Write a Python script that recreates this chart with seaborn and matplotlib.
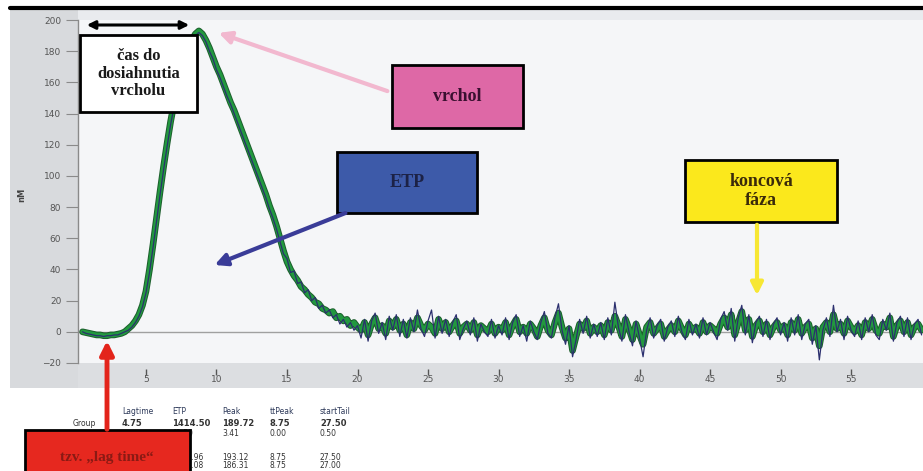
import numpy as np
import pandas as pd
import matplotlib
matplotlib.use("Agg")
import matplotlib.pyplot as plt
import seaborn as sns
from matplotlib.patches import Rectangle, FancyArrowPatch

W, H = 923, 471

# time grid (min), 0.25 min sampling
time_min = np.arange(0.5, 60.01, 0.25)

# thick green curve (nM)
green_vals = [
    # 0.5 - 4.75
    0, -0.5, -1, -1.5, -2, -2, -2.5, -2.5, -2, -2, -1.5, -1, 0, 2, 4, 7, 11, 17,
    # 5.0 - 9.0
    26, 40, 56, 73, 90, 106, 121, 135, 147, 158, 167, 175, 182, 187, 191, 193, 191,
    # 9.25 - 20.0
    187, 182, 176, 170, 165, 159, 153, 147, 142, 136, 130, 124, 118, 112, 106, 100, 94, 88, 81, 75,
    68, 60, 52, 45, 40, 36, 33, 29, 27, 24, 22, 19, 18, 15, 14, 12, 13, 9, 10, 7, 8, 4, 6, 3,
    # tail 20.25 - 60.0
    1, 6, -2, 5, 9, 2, 4, -1, 7, 3, 8, 1, 5, -2, 6, 2, 9, 4, 1, 5,
    3, -1, 8, 2, 6, 0, 4, 7, -1, 3, 5, 1, 6, -2, 4, 2, 0, 5, -1, 3,
    1, 6, -2, 4, 8, 0, 3, -1, 5, 2, -3, 4, 9, 1, -2, 6, 12, 3, -4, 2,
    -12, -3, 5, 2, 7, -1, 3, 0, 4, -2, 6, 1, 10, 4, -3, 8, 2, -5, 5, -2,
    -8, 3, 6, -1, 2, 5, -3, 1, 4, 0, 7, 2, -2, 5, 1, 3, -1, 6, 0, 4,
    2, -1, 5, 9, 3, 11, -2, 6, 13, 1, 8, -3, 4, 7, 0, 5, -2, 3, 6, 1,
    4, -2, 6, 1, 8, -1, 3, 5, -4, 2, -9, 3, 6, 0, 11, 2, 5, -1, 7, 3,
    0, 4, -2, 6, 2, 8, 1, -1, 5, 3, 9, -3, 4, 7, 0, 6, -2, 3, 5, 1,
]

# thin dark curve (nM)
navy_vals = [
    0, -1, -1.5, -2, -2.5, -2.5, -3, -2.5, -2.5, -2, -2, -1, 0, 1, 3, 6, 10, 16,
    25, 38, 54, 71, 88, 104, 119, 133, 145, 156, 165, 174, 181, 187, 190, 192, 190,
    186, 180, 175, 168, 163, 157, 151, 146, 140, 134, 128, 122, 116, 110, 104, 98, 92, 86, 79, 73,
    66, 58, 50, 47, 38, 39, 31, 32, 25, 27, 20, 22, 15, 17, 12, 14, 9, 11, 5, 8, 3, 6, 1, 4,
    -4, 8, -6, 7, 12, -1, 6, -5, 10, 1, 11, -3, 8, -4, 9, 0, 14, 2, -3, 7,
    14, -4, 10, -1, 8, -3, 6, 11, -5, 2, 7, -2, 9, -6, 5, 0, -3, 8, -4, 4,
    -2, 9, -5, 6, 11, -3, 4, -6, 7, 0, -5, 6, 13, -1, -4, 9, 18, 1, -8, 4,
    -16, -5, 8, -1, 10, -4, 5, -3, 6, -5, 9, -2, 19, 3, -6, 11, 0, -9, 7, -4,
    -16, 1, 9, -4, 4, 8, -6, 3, 7, -3, 10, 0, -5, 8, -2, 5, -4, 9, -2, 6,
    0, -5, 8, 13, 1, 15, -6, 9, 17, -2, 11, -7, 6, 10, -3, 8, -5, 5, 9, -2,
    6, -6, 9, -2, 11, -5, 5, 8, -8, 4, -18, 1, 9, -3, 17, 0, 8, -5, 10, 1,
    -3, 7, -5, 9, 0, 11, -2, -5, 8, 1, 12, -6, 6, 10, -3, 9, -5, 5, 8, -2,
]

y_ticks = [-20, 0, 20, 40, 60, 80, 100, 120, 140, 160, 180, 200]
x_ticks = [5, 10, 15, 20, 25, 30, 35, 40, 45, 50, 55]

table_header = ["Lagtime", "ETP", "Peak", "ttPeak", "startTail"]
# first cells of the lower rows sit behind the red box in the picture
table_rows = [
    ["4.75", "1414.50", "189.72", "8.75", "27.50"],
    ["", "43.50", "3.41", "0.00", "0.50"],
    ["", "1432.96", "193.12", "8.75", "27.50"],
    ["", "1385.08", "186.31", "8.75", "27.00"],
]

df = pd.DataFrame({"time": time_min, "green": green_vals, "navy": navy_vals})

sns.set_theme(style="white")
plt.rcParams["font.family"] = ["DejaVu Sans"]

fig = plt.figure(figsize=(W / 100, H / 100), dpi=100)
fig.patch.set_facecolor("white")


def fx(x):
    return x / W


def fy(y):
    return 1 - y / H


def box(x0, y0, x1, y1, fc, ec="black", lw=2.0):
    fig.add_artist(Rectangle((fx(x0), fy(y1)), (x1 - x0) / W, (y1 - y0) / H,
                             transform=fig.transFigure, facecolor=fc, edgecolor=ec,
                             linewidth=lw, zorder=5))


def arrow(x0, y0, x1, y1, color, lw=3, style="-|>", scale=16):
    fig.add_artist(FancyArrowPatch((fx(x0), fy(y0)), (fx(x1), fy(y1)),
                                   transform=fig.transFigure, arrowstyle=style,
                                   mutation_scale=scale, color=color, linewidth=lw,
                                   zorder=6))


# grey panels behind the axes
fig.add_artist(Rectangle((fx(10), fy(388)), (78 - 10) / W, (388 - 10) / H,
                         transform=fig.transFigure, facecolor="#d8dadd", edgecolor="none", zorder=0))
fig.add_artist(Rectangle((fx(78), fy(388)), (W - 78) / W, (388 - 363) / H,
                         transform=fig.transFigure, facecolor="#dcdee1", edgecolor="none", zorder=0))
fig.add_artist(Rectangle((fx(78), fy(20)), (W - 78) / W, (20 - 10) / H,
                         transform=fig.transFigure, facecolor="#e9ebee", edgecolor="none", zorder=0))

ax = fig.add_axes([fx(78), fy(363), (W - 78) / W, (363 - 20) / H])
ax.set_facecolor("#f5f6f8")

sns.lineplot(data=df, x="time", y="navy", ax=ax, color="#2b2f6e", linewidth=0.9, sort=False, zorder=3)
sns.lineplot(data=df, x="time", y="green", ax=ax, color="#1c5e2c", linewidth=4.8, sort=False, zorder=2)
sns.lineplot(data=df, x="time", y="green", ax=ax, color="#22983f", linewidth=3.4, sort=False, zorder=2)
ax.axhline(0, color="#a0a0a0", linewidth=1, zorder=1)

ax.set_xlim(0.18, 60.1)
ax.set_ylim(-20, 200)
ax.set_xticks(x_ticks)
ax.set_yticks(y_ticks)
ax.set_xlabel("")
ax.set_ylabel("")
for s in ["top", "right", "bottom"]:
    ax.spines[s].set_visible(False)
ax.spines["left"].set_color("#8a8a8a")
ax.spines["left"].set_linewidth(1)
ax.spines["bottom"].set_position(("outward", 4))
ax.tick_params(axis="y", direction="out", length=9, width=0.8, color="#8a8a8a",
               labelsize=6.5, labelcolor="#555555", pad=3, left=True)
ax.tick_params(axis="x", direction="out", length=4, width=1, color="#555555",
               labelsize=6.5, labelcolor="#555555", pad=1, bottom=True)

fig.text(fx(22), fy(195), "nM", rotation=90, fontsize=6, color="#444444",
         ha="center", va="center", fontweight="bold")

# top rule
fig.add_artist(plt.Line2D([fx(10), fx(W)], [fy(8), fy(8)], transform=fig.transFigure,
                          color="black", linewidth=3, zorder=7))

# results table under the chart
col_x = [122, 172, 222, 270, 320]
fig.text(fx(73), fy(423), "Group", fontsize=5.5, color="#333333", va="center")
for cx, head in zip(col_x, table_header):
    fig.text(fx(cx), fy(412), head, fontsize=5.5, color="#2e3a5a", va="center")
row_y = [423, 433, 457, 466]
for ry, row in zip(row_y, table_rows):
    for cx, val in zip(col_x, row):
        if not val:
            continue
        fig.text(fx(cx), fy(ry), val, fontsize=6 if ry == 423 else 5.5,
                 fontweight="bold" if ry == 423 else "normal", color="#333333", va="center")

serif = ["Liberation Serif", "DejaVu Serif"]

# annotation boxes and arrows
arrow(84, 25, 192, 25, "black", lw=2.2, style="<|-|>", scale=12)
box(80, 35, 197, 112, "white")
fig.text(fx(138.5), fy(73.5), "čas do\ndosiahnutia\nvrcholu", ha="center", va="center",
         fontsize=12, fontweight="bold", family=serif, color="#1a1a1a", linespacing=1.15, zorder=8)

arrow(390, 92, 216, 32, "#f2b8cf", lw=3, scale=18)
box(392, 65, 523, 128, "#de68a6")
fig.text(fx(457.5), fy(96.5), "vrchol", ha="center", va="center", fontsize=13,
         fontweight="bold", family=serif, color="#3a1030", zorder=8)

arrow(348, 212, 212, 266, "#3a3c98", lw=3, scale=18)
box(337, 152, 477, 213, "#3d5aa9")
fig.text(fx(407), fy(182.5), "ETP", ha="center", va="center", fontsize=13,
         fontweight="bold", family=serif, color="#1c2246", zorder=8)

arrow(757, 222, 757, 298, "#f7e734", lw=3, scale=18)
box(685, 160, 837, 222, "#fbe81c")
fig.text(fx(761), fy(191), "koncová\nfáza", ha="center", va="center", fontsize=13,
         fontweight="bold", family=serif, color="#3a2a0a", linespacing=1.2, zorder=8)

arrow(107, 432, 107, 338, "#e3241b", lw=3.5, scale=20)
box(25, 430, 190, 475, "#e6281f")
fig.text(fx(107), fy(458), "tzv. „lag time“", ha="center", va="center", fontsize=11,
         fontweight="bold", family=serif, color="#8a1a14", zorder=8)

fig.savefig("out.png", dpi=100)
